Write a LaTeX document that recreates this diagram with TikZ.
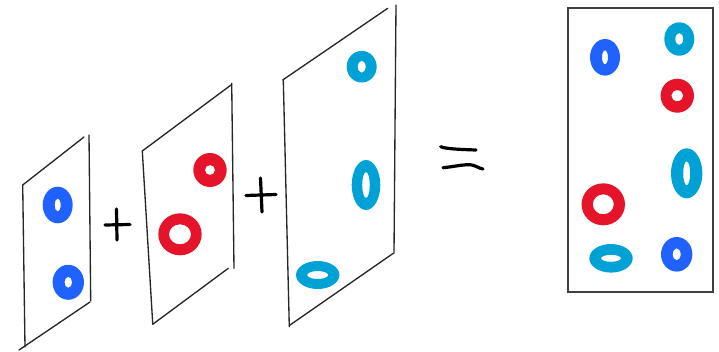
\documentclass[tikz,border=0pt]{standalone}
\begin{document}
\begin{tikzpicture}[x=0.75pt,y=-0.75pt,
  panel/.style={draw=black!85,line width=1pt,line cap=round},
  stroke/.style={draw=black,line width=2.4pt,line cap=round,line join=round},
  frame/.style={draw=black!75,line width=1.5pt},
  ring/.style={fill=#1,even odd rule}]
\definecolor{rblue}{RGB}{32,98,255}
\definecolor{rred}{RGB}{230,20,42}
\definecolor{rcyan}{RGB}{0,162,214}
\useasboundingbox (0,0) rectangle (719,351);
% panel 1
\draw[panel] (22.7,185) -- (84,137);
\draw[panel] (89,135) -- (90.7,301);
\draw[panel] (19,350) -- (90,302);
\draw[panel] (22.7,185) -- (25,347);
\fill[ring=rblue] (57.7,205) ellipse (15 and 18.3) (57.7,205) ellipse (3 and 6.5);
\fill[ring=rblue] (68.3,282.3) ellipse (15.7 and 17.5) (68.3,282.3) ellipse (3.8 and 5.5);
% plus 1
\draw[stroke] (105,225) -- (130,224.5);
\draw[stroke] (116.5,209) -- (117,240);
% panel 2
\draw[panel] (142.3,151) -- (231,85);
\draw[panel] (231.7,83.3) -- (234,268.3);
\draw[panel] (142.3,151) -- (152.7,323.3);
\draw[panel] (152.7,324.3) -- (228.3,268.3);
\fill[ring=rred] (210,170) ellipse (16.7 and 17) (210,170) ellipse (5 and 5);
\fill[ring=rred] (180,234.3) ellipse (21.7 and 21) (180,234.3) ellipse (11 and 10);
% plus 2
\draw[stroke] (246,195.5) -- (276,194.5);
\draw[stroke] (260.5,178) -- (262,212);
% panel 3
\draw[panel] (282.7,80) -- (387.7,8.3);
\draw[panel] (396,5) -- (394,253.3);
\draw[panel] (283.3,80) -- (289.3,326.7);
\draw[panel] (289.3,325.5) -- (393.3,253.3);
\fill[ring=rcyan] (361.7,66.7) ellipse (15 and 15.8) (361.7,66.7) ellipse (4 and 6);
\fill[ring=rcyan] (366,185) ellipse (14.3 and 25) (366,185) ellipse (3.8 and 13);
\fill[ring=rcyan] (317.7,275) ellipse (21.7 and 14) (317.7,275) ellipse (10.5 and 4);
% equals
\draw[stroke] (440.7,146.7) .. controls (446,149) and (462,149.5) .. (476,150);
\draw[stroke] (443,167.7) .. controls (452,167) and (462,164.5) .. (470,164.7) .. controls (475,165) and (479,168.5) .. (483,169);
% result box
\draw[frame] (568,8.3) rectangle (712.7,291.7);
\fill[ring=rblue] (605,57.3) ellipse (15 and 18.3) (605,57.3) ellipse (3 and 7);
\fill[ring=rcyan] (679.3,39) ellipse (15 and 16.7) (679.3,39) ellipse (4 and 6);
\fill[ring=rred] (677.3,95.7) ellipse (16.7 and 17) (677.3,95.7) ellipse (6 and 5.5);
\fill[ring=rcyan] (686.7,173.3) ellipse (15.7 and 25) (686.7,173.3) ellipse (3.5 and 12);
\fill[ring=rred] (603.3,204.3) ellipse (21.7 and 21) (603.3,204.3) ellipse (10.5 and 10);
\fill[ring=rcyan] (611,258.3) ellipse (21.7 and 14.3) (611,258.3) ellipse (10 and 3.5);
\fill[ring=rblue] (676.7,254.3) ellipse (15.7 and 17.3) (676.7,254.3) ellipse (4 and 6);
\end{tikzpicture}
\end{document}
